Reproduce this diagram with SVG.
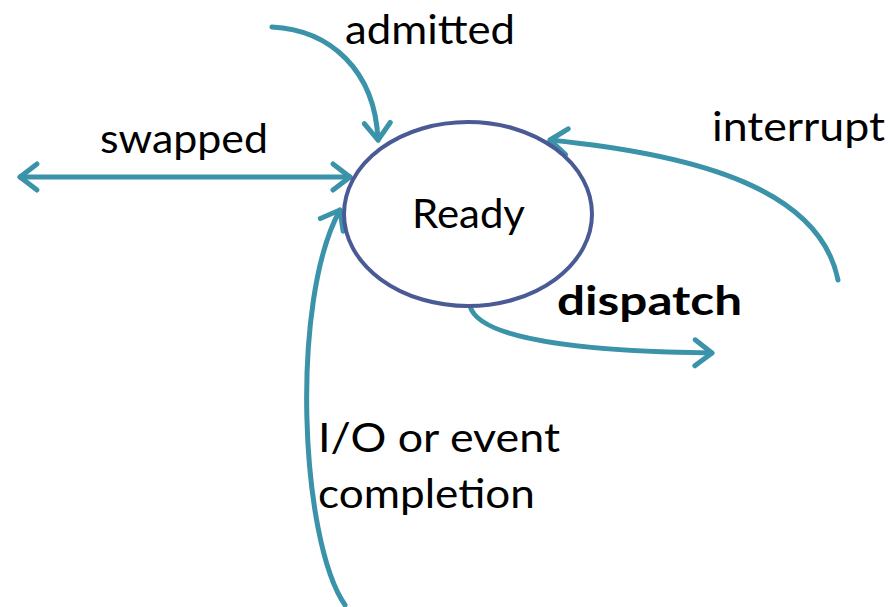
<svg xmlns="http://www.w3.org/2000/svg" width="890" height="607" viewBox="0 0 890 607">
  <style>
    .lbl { font-family: "Lato", "Open Sans", "Liberation Sans", sans-serif; font-size: 41px; fill: #000; }
    .bold { font-weight: bold; }
    .edge { fill: none; stroke: #3a93a8; stroke-width: 5; stroke-linecap: round; }
    .state { fill: #fff; stroke: #4a5a95; stroke-width: 4; }
  </style>
  <defs>
    <marker id="chev" markerUnits="userSpaceOnUse" viewBox="-24 -18 30 36" markerWidth="30" markerHeight="36" refX="0" refY="0" orient="auto-start-reverse" overflow="visible">
      <path d="M-17,-13 L0,0 L-17,13" fill="none" stroke="#3a93a8" stroke-width="5" stroke-linecap="round" stroke-linejoin="round"/>
    </marker>
  </defs>

  <g id="connectors">
    <path id="e-admitted" class="edge" d="M272,27 C330,30 375,70 378,140" marker-end="url(#chev)"/>
    <path id="e-swapped" class="edge" d="M20,177 L350,177" marker-start="url(#chev)" marker-end="url(#chev)"/>
    <path id="e-interrupt" class="edge" d="M838,280 C820,190 700,155 550,140" marker-end="url(#chev)"/>
    <path id="e-dispatch" class="edge" d="M470,306 C480,345 620,352 712,353" marker-end="url(#chev)"/>
    <path id="e-io" class="edge" d="M345,605 C300,540 290,300 340,210" marker-end="url(#chev)"/>
  </g>

  <g id="ready">
    <ellipse class="state" cx="468" cy="214" rx="124" ry="92"/>
    <text class="lbl" x="412" y="228" textLength="113" lengthAdjust="spacingAndGlyphs">Ready</text>
  </g>

  <g id="labels">
    <text class="lbl" x="345" y="44" textLength="170" lengthAdjust="spacingAndGlyphs">admitted</text>
    <text class="lbl" x="100" y="153" textLength="168" lengthAdjust="spacingAndGlyphs">swapped</text>
    <text class="lbl" x="712" y="141" textLength="173" lengthAdjust="spacingAndGlyphs">interrupt</text>
    <text class="lbl bold" x="557" y="315" textLength="185" lengthAdjust="spacingAndGlyphs">dispatch</text>
    <text class="lbl" x="318" y="452" textLength="242" lengthAdjust="spacingAndGlyphs">I/O or event</text>
    <text class="lbl" x="318" y="508" textLength="217" lengthAdjust="spacingAndGlyphs">completion</text>
  </g>
</svg>
